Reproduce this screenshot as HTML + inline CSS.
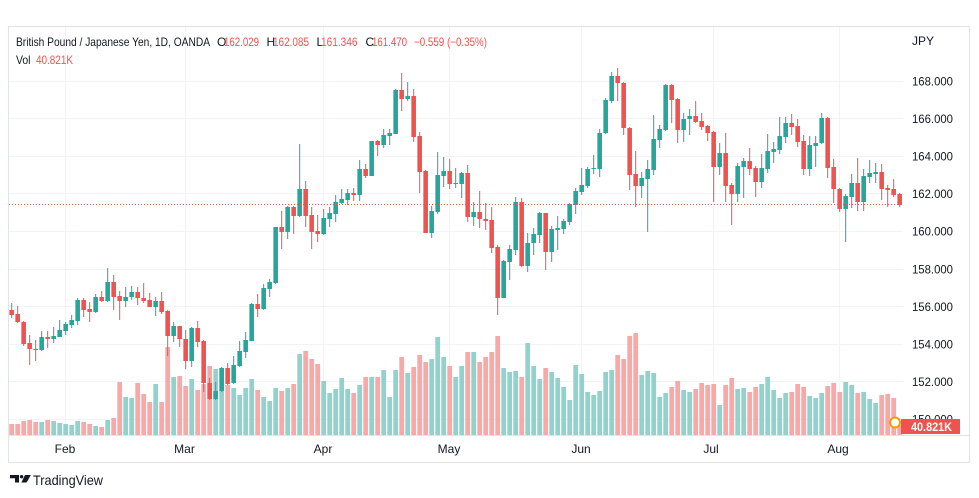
<!DOCTYPE html>
<html><head><meta charset="utf-8"><style>
html,body{margin:0;padding:0;background:#fff;width:979px;height:498px;overflow:hidden}
svg{display:block}
text{font-family:"Liberation Sans",sans-serif}
.G rect{fill:#26a69a}.G .v{fill:#92d2cc}
.R rect{fill:#ef5350}.R .v{fill:#f7a9a8}
.gl{stroke:#f0f3fa;stroke-width:1}
.pl{font-size:12px;fill:#131722}
.tl{font-size:12px;fill:#131722;text-anchor:middle}
</style></head><body>
<svg width="979" height="498" viewBox="0 0 979 498" xmlns="http://www.w3.org/2000/svg">
<rect x="0" y="0" width="979" height="498" fill="#fff"/>
<!-- grid -->
<g class="gl">
<line x1="9" y1="81.5" x2="903" y2="81.5"/><line x1="9" y1="118.5" x2="903" y2="118.5"/><line x1="9" y1="156.5" x2="903" y2="156.5"/><line x1="9" y1="193.5" x2="903" y2="193.5"/><line x1="9" y1="231.5" x2="903" y2="231.5"/><line x1="9" y1="269.5" x2="903" y2="269.5"/><line x1="9" y1="306.5" x2="903" y2="306.5"/><line x1="9" y1="344.5" x2="903" y2="344.5"/><line x1="9" y1="381.5" x2="903" y2="381.5"/><line x1="9" y1="419.5" x2="903" y2="419.5"/>
<line x1="65.5" y1="27" x2="65.5" y2="435"/><line x1="185.5" y1="27" x2="185.5" y2="435"/><line x1="323.5" y1="27" x2="323.5" y2="435"/><line x1="449.5" y1="27" x2="449.5" y2="435"/><line x1="581.5" y1="27" x2="581.5" y2="435"/><line x1="713.5" y1="27" x2="713.5" y2="435"/><line x1="839.5" y1="27" x2="839.5" y2="435"/>
</g>
<!-- candles -->
<g>
<g class="R" transform="translate(0,0)"><rect class="v" x="9.3" y="424" width="4.8" height="11"/><rect x="11.17" y="303" width="1" height="15"/><rect x="9.37" y="310" width="4.6" height="5"/></g>
<g class="R" transform="translate(6,0)"><rect class="v" x="9.3" y="424" width="4.8" height="11"/><rect x="11.17" y="306" width="1" height="17"/><rect x="9.37" y="314" width="4.6" height="8"/></g>
<g class="R" transform="translate(12,0)"><rect class="v" x="9.3" y="421" width="4.8" height="14"/><rect x="11.17" y="321" width="1" height="25"/><rect x="9.37" y="322" width="4.6" height="22"/></g>
<g class="R" transform="translate(18,0)"><rect class="v" x="9.3" y="420" width="4.8" height="15"/><rect x="11.17" y="335" width="1" height="30"/><rect x="9.37" y="343" width="4.6" height="6"/></g>
<g class="R" transform="translate(24,0)"><rect class="v" x="9.3" y="422" width="4.8" height="13"/><rect x="11.17" y="340" width="1" height="21"/><rect x="9.37" y="349" width="4.6" height="1"/></g>
<g class="G" transform="translate(30,0)"><rect class="v" x="9.3" y="422" width="4.8" height="13"/><rect x="11.17" y="331" width="1" height="20"/><rect x="9.37" y="337" width="4.6" height="13"/></g>
<g class="R" transform="translate(36,0)"><rect class="v" x="9.3" y="420" width="4.8" height="15"/><rect x="11.17" y="331" width="1" height="17"/><rect x="9.37" y="337" width="4.6" height="2"/></g>
<g class="G" transform="translate(42,0)"><rect class="v" x="9.3" y="421" width="4.8" height="14"/><rect x="11.17" y="327" width="1" height="16"/><rect x="9.37" y="336" width="4.6" height="3"/></g>
<g class="G" transform="translate(48,0)"><rect class="v" x="9.3" y="423" width="4.8" height="12"/><rect x="11.17" y="320" width="1" height="17"/><rect x="9.37" y="330" width="4.6" height="7"/></g>
<g class="G" transform="translate(54,0)"><rect class="v" x="9.3" y="424" width="4.8" height="11"/><rect x="11.17" y="322" width="1" height="13"/><rect x="9.37" y="324" width="4.6" height="7"/></g>
<g class="G" transform="translate(60,0)"><rect class="v" x="9.3" y="425" width="4.8" height="10"/><rect x="11.17" y="315" width="1" height="13"/><rect x="9.37" y="320" width="4.6" height="5"/></g>
<g class="G" transform="translate(66,0)"><rect class="v" x="9.3" y="421" width="4.8" height="14"/><rect x="11.17" y="298" width="1" height="27"/><rect x="9.37" y="300" width="4.6" height="21"/></g>
<g class="R" transform="translate(72,0)"><rect class="v" x="9.3" y="422" width="4.8" height="13"/><rect x="11.17" y="298" width="1" height="19"/><rect x="9.37" y="300" width="4.6" height="10"/></g>
<g class="R" transform="translate(78,0)"><rect class="v" x="9.3" y="424" width="4.8" height="11"/><rect x="11.17" y="302" width="1" height="20"/><rect x="9.37" y="309" width="4.6" height="3"/></g>
<g class="G" transform="translate(84,0)"><rect class="v" x="9.3" y="426" width="4.8" height="9"/><rect x="11.17" y="294" width="1" height="19"/><rect x="9.37" y="297" width="4.6" height="15"/></g>
<g class="R" transform="translate(90,0)"><rect class="v" x="9.3" y="427" width="4.8" height="8"/><rect x="11.17" y="291" width="1" height="11"/><rect x="9.37" y="297" width="4.6" height="4"/></g>
<g class="G" transform="translate(96,0)"><rect class="v" x="9.3" y="420" width="4.8" height="15"/><rect x="11.17" y="268" width="1" height="34"/><rect x="9.37" y="282" width="4.6" height="19"/></g>
<g class="R" transform="translate(102,0)"><rect class="v" x="9.3" y="418" width="4.8" height="17"/><rect x="11.17" y="275" width="1" height="35"/><rect x="9.37" y="282" width="4.6" height="15"/></g>
<g class="R" transform="translate(108,0)"><rect class="v" x="9.3" y="382" width="4.8" height="53"/><rect x="11.17" y="291" width="1" height="29"/><rect x="9.37" y="296" width="4.6" height="5"/></g>
<g class="G" transform="translate(114,0)"><rect class="v" x="9.3" y="397" width="4.8" height="38"/><rect x="11.17" y="287" width="1" height="20"/><rect x="9.37" y="297" width="4.6" height="4"/></g>
<g class="G" transform="translate(120,0)"><rect class="v" x="9.3" y="398" width="4.8" height="37"/><rect x="11.17" y="286" width="1" height="14"/><rect x="9.37" y="292" width="4.6" height="5"/></g>
<g class="R" transform="translate(126,0)"><rect class="v" x="9.3" y="383" width="4.8" height="52"/><rect x="11.17" y="287" width="1" height="18"/><rect x="9.37" y="292" width="4.6" height="6"/></g>
<g class="R" transform="translate(132,0)"><rect class="v" x="9.3" y="394" width="4.8" height="41"/><rect x="11.17" y="283" width="1" height="20"/><rect x="9.37" y="298" width="4.6" height="3"/></g>
<g class="R" transform="translate(138,0)"><rect class="v" x="9.3" y="402" width="4.8" height="33"/><rect x="11.17" y="293" width="1" height="14"/><rect x="9.37" y="300" width="4.6" height="7"/></g>
<g class="G" transform="translate(144,0)"><rect class="v" x="9.3" y="384" width="4.8" height="51"/><rect x="11.17" y="297" width="1" height="19"/><rect x="9.37" y="301" width="4.6" height="6"/></g>
<g class="R" transform="translate(150,0)"><rect class="v" x="9.3" y="402" width="4.8" height="33"/><rect x="11.17" y="292" width="1" height="22"/><rect x="9.37" y="301" width="4.6" height="11"/></g>
<g class="R" transform="translate(156,0)"><rect class="v" x="9.3" y="347" width="4.8" height="88"/><rect x="11.17" y="310" width="1" height="46"/><rect x="9.37" y="311" width="4.6" height="25"/></g>
<g class="G" transform="translate(162,0)"><rect class="v" x="9.3" y="377" width="4.8" height="58"/><rect x="11.17" y="322" width="1" height="20"/><rect x="9.37" y="326" width="4.6" height="10"/></g>
<g class="R" transform="translate(168,0)"><rect class="v" x="9.3" y="376" width="4.8" height="59"/><rect x="11.17" y="326" width="1" height="21"/><rect x="9.37" y="326" width="4.6" height="13"/></g>
<g class="R" transform="translate(174,0)"><rect class="v" x="9.3" y="386" width="4.8" height="49"/><rect x="11.17" y="330" width="1" height="39"/><rect x="9.37" y="339" width="4.6" height="22"/></g>
<g class="G" transform="translate(180,0)"><rect class="v" x="9.3" y="379" width="4.8" height="56"/><rect x="11.17" y="327" width="1" height="40"/><rect x="9.37" y="328" width="4.6" height="33"/></g>
<g class="R" transform="translate(186,0)"><rect class="v" x="9.3" y="390" width="4.8" height="45"/><rect x="11.17" y="321" width="1" height="26"/><rect x="9.37" y="328" width="4.6" height="14"/></g>
<g class="R" transform="translate(192,0)"><rect class="v" x="9.3" y="384" width="4.8" height="51"/><rect x="11.17" y="340" width="1" height="52"/><rect x="9.37" y="341" width="4.6" height="42"/></g>
<g class="R" transform="translate(198,0)"><rect class="v" x="9.3" y="366" width="4.8" height="69"/><rect x="11.17" y="378" width="1" height="22"/><rect x="9.37" y="383" width="4.6" height="16"/></g>
<g class="G" transform="translate(204,0)"><rect class="v" x="9.3" y="369" width="4.8" height="66"/><rect x="11.17" y="382" width="1" height="18"/><rect x="9.37" y="391" width="4.6" height="8"/></g>
<g class="G" transform="translate(210,0)"><rect class="v" x="9.3" y="368" width="4.8" height="67"/><rect x="11.17" y="367" width="1" height="25"/><rect x="9.37" y="368" width="4.6" height="23"/></g>
<g class="R" transform="translate(216,0)"><rect class="v" x="9.3" y="385" width="4.8" height="50"/><rect x="11.17" y="363" width="1" height="22"/><rect x="9.37" y="368" width="4.6" height="16"/></g>
<g class="G" transform="translate(222,0)"><rect class="v" x="9.3" y="388" width="4.8" height="47"/><rect x="11.17" y="356" width="1" height="28"/><rect x="9.37" y="365" width="4.6" height="18"/></g>
<g class="G" transform="translate(228,0)"><rect class="v" x="9.3" y="395" width="4.8" height="40"/><rect x="11.17" y="341" width="1" height="26"/><rect x="9.37" y="351" width="4.6" height="15"/></g>
<g class="G" transform="translate(234,0)"><rect class="v" x="9.3" y="388" width="4.8" height="47"/><rect x="11.17" y="332" width="1" height="26"/><rect x="9.37" y="340" width="4.6" height="12"/></g>
<g class="G" transform="translate(240,0)"><rect class="v" x="9.3" y="379" width="4.8" height="56"/><rect x="11.17" y="303" width="1" height="38"/><rect x="9.37" y="304" width="4.6" height="37"/></g>
<g class="R" transform="translate(246,0)"><rect class="v" x="9.3" y="390" width="4.8" height="45"/><rect x="11.17" y="294" width="1" height="23"/><rect x="9.37" y="304" width="4.6" height="5"/></g>
<g class="G" transform="translate(252,0)"><rect class="v" x="9.3" y="397" width="4.8" height="38"/><rect x="11.17" y="284" width="1" height="26"/><rect x="9.37" y="288" width="4.6" height="21"/></g>
<g class="G" transform="translate(258,0)"><rect class="v" x="9.3" y="401" width="4.8" height="34"/><rect x="11.17" y="279" width="1" height="18"/><rect x="9.37" y="282" width="4.6" height="7"/></g>
<g class="G" transform="translate(264,0)"><rect class="v" x="9.3" y="388" width="4.8" height="47"/><rect x="11.17" y="227" width="1" height="57"/><rect x="9.37" y="227" width="4.6" height="56"/></g>
<g class="R" transform="translate(270,0)"><rect class="v" x="9.3" y="391" width="4.8" height="44"/><rect x="11.17" y="211" width="1" height="38"/><rect x="9.37" y="227" width="4.6" height="5"/></g>
<g class="G" transform="translate(276,0)"><rect class="v" x="9.3" y="388" width="4.8" height="47"/><rect x="11.17" y="206" width="1" height="33"/><rect x="9.37" y="207" width="4.6" height="25"/></g>
<g class="R" transform="translate(282,0)"><rect class="v" x="9.3" y="384" width="4.8" height="51"/><rect x="11.17" y="206" width="1" height="28"/><rect x="9.37" y="207" width="4.6" height="9"/></g>
<g class="G" transform="translate(288,0)"><rect class="v" x="9.3" y="354" width="4.8" height="81"/><rect x="11.17" y="144" width="1" height="73"/><rect x="9.37" y="189" width="4.6" height="27"/></g>
<g class="R" transform="translate(294,0)"><rect class="v" x="9.3" y="351" width="4.8" height="84"/><rect x="11.17" y="181" width="1" height="46"/><rect x="9.37" y="189" width="4.6" height="27"/></g>
<g class="R" transform="translate(300,0)"><rect class="v" x="9.3" y="359" width="4.8" height="76"/><rect x="11.17" y="207" width="1" height="42"/><rect x="9.37" y="215" width="4.6" height="17"/></g>
<g class="R" transform="translate(306,0)"><rect class="v" x="9.3" y="364" width="4.8" height="71"/><rect x="11.17" y="215" width="1" height="27"/><rect x="9.37" y="231" width="4.6" height="3"/></g>
<g class="G" transform="translate(312,0)"><rect class="v" x="9.3" y="381" width="4.8" height="54"/><rect x="11.17" y="209" width="1" height="26"/><rect x="9.37" y="218" width="4.6" height="16"/></g>
<g class="G" transform="translate(318,0)"><rect class="v" x="9.3" y="393" width="4.8" height="42"/><rect x="11.17" y="207" width="1" height="20"/><rect x="9.37" y="213" width="4.6" height="6"/></g>
<g class="G" transform="translate(324,0)"><rect class="v" x="9.3" y="389" width="4.8" height="46"/><rect x="11.17" y="195" width="1" height="27"/><rect x="9.37" y="202" width="4.6" height="12"/></g>
<g class="G" transform="translate(330,0)"><rect class="v" x="9.3" y="378" width="4.8" height="57"/><rect x="11.17" y="189" width="1" height="15"/><rect x="9.37" y="199" width="4.6" height="4"/></g>
<g class="G" transform="translate(336,0)"><rect class="v" x="9.3" y="389" width="4.8" height="46"/><rect x="11.17" y="189" width="1" height="16"/><rect x="9.37" y="193" width="4.6" height="7"/></g>
<g class="R" transform="translate(342,0)"><rect class="v" x="9.3" y="393" width="4.8" height="42"/><rect x="11.17" y="188" width="1" height="13"/><rect x="9.37" y="193" width="4.6" height="2"/></g>
<g class="G" transform="translate(348,0)"><rect class="v" x="9.3" y="385" width="4.8" height="50"/><rect x="11.17" y="160" width="1" height="41"/><rect x="9.37" y="169" width="4.6" height="26"/></g>
<g class="R" transform="translate(354,0)"><rect class="v" x="9.3" y="377" width="4.8" height="58"/><rect x="11.17" y="164" width="1" height="14"/><rect x="9.37" y="169" width="4.6" height="7"/></g>
<g class="G" transform="translate(360,0)"><rect class="v" x="9.3" y="377" width="4.8" height="58"/><rect x="11.17" y="141" width="1" height="35"/><rect x="9.37" y="141" width="4.6" height="35"/></g>
<g class="R" transform="translate(366,0)"><rect class="v" x="9.3" y="377" width="4.8" height="58"/><rect x="11.17" y="140" width="1" height="16"/><rect x="9.37" y="141" width="4.6" height="4"/></g>
<g class="G" transform="translate(372,0)"><rect class="v" x="9.3" y="370" width="4.8" height="65"/><rect x="11.17" y="129" width="1" height="19"/><rect x="9.37" y="135" width="4.6" height="10"/></g>
<g class="G" transform="translate(378,0)"><rect class="v" x="9.3" y="397" width="4.8" height="38"/><rect x="11.17" y="129" width="1" height="16"/><rect x="9.37" y="133" width="4.6" height="3"/></g>
<g class="G" transform="translate(384,0)"><rect class="v" x="9.3" y="370" width="4.8" height="65"/><rect x="11.17" y="89" width="1" height="45"/><rect x="9.37" y="90" width="4.6" height="44"/></g>
<g class="R" transform="translate(390,0)"><rect class="v" x="9.3" y="357" width="4.8" height="78"/><rect x="11.17" y="73" width="1" height="38"/><rect x="9.37" y="90" width="4.6" height="9"/></g>
<g class="G" transform="translate(396,0)"><rect class="v" x="9.3" y="373" width="4.8" height="62"/><rect x="11.17" y="82" width="1" height="19"/><rect x="9.37" y="96" width="4.6" height="3"/></g>
<g class="R" transform="translate(402,0)"><rect class="v" x="9.3" y="367" width="4.8" height="68"/><rect x="11.17" y="89" width="1" height="53"/><rect x="9.37" y="96" width="4.6" height="41"/></g>
<g class="R" transform="translate(408,0)"><rect class="v" x="9.3" y="355" width="4.8" height="80"/><rect x="11.17" y="132" width="1" height="61"/><rect x="9.37" y="136" width="4.6" height="36"/></g>
<g class="R" transform="translate(414,0)"><rect class="v" x="9.3" y="362" width="4.8" height="73"/><rect x="11.17" y="170" width="1" height="63"/><rect x="9.37" y="171" width="4.6" height="62"/></g>
<g class="G" transform="translate(420,0)"><rect class="v" x="9.3" y="359" width="4.8" height="76"/><rect x="11.17" y="206" width="1" height="32"/><rect x="9.37" y="211" width="4.6" height="22"/></g>
<g class="G" transform="translate(426,0)"><rect class="v" x="9.3" y="337" width="4.8" height="98"/><rect x="11.17" y="152" width="1" height="62"/><rect x="9.37" y="175" width="4.6" height="37"/></g>
<g class="G" transform="translate(432,0)"><rect class="v" x="9.3" y="357" width="4.8" height="78"/><rect x="11.17" y="157" width="1" height="30"/><rect x="9.37" y="171" width="4.6" height="5"/></g>
<g class="R" transform="translate(438,0)"><rect class="v" x="9.3" y="366" width="4.8" height="69"/><rect x="11.17" y="159" width="1" height="30"/><rect x="9.37" y="171" width="4.6" height="13"/></g>
<g class="G" transform="translate(444,0)"><rect class="v" x="9.3" y="377" width="4.8" height="58"/><rect x="11.17" y="168" width="1" height="20"/><rect x="9.37" y="183" width="4.6" height="1"/></g>
<g class="G" transform="translate(450,0)"><rect class="v" x="9.3" y="366" width="4.8" height="69"/><rect x="11.17" y="172" width="1" height="26"/><rect x="9.37" y="173" width="4.6" height="11"/></g>
<g class="R" transform="translate(456,0)"><rect class="v" x="9.3" y="352" width="4.8" height="83"/><rect x="11.17" y="165" width="1" height="57"/><rect x="9.37" y="173" width="4.6" height="44"/></g>
<g class="G" transform="translate(462,0)"><rect class="v" x="9.3" y="352" width="4.8" height="83"/><rect x="11.17" y="202" width="1" height="24"/><rect x="9.37" y="212" width="4.6" height="5"/></g>
<g class="R" transform="translate(468,0)"><rect class="v" x="9.3" y="362" width="4.8" height="73"/><rect x="11.17" y="191" width="1" height="37"/><rect x="9.37" y="212" width="4.6" height="7"/></g>
<g class="R" transform="translate(474,0)"><rect class="v" x="9.3" y="357" width="4.8" height="78"/><rect x="11.17" y="203" width="1" height="27"/><rect x="9.37" y="219" width="4.6" height="2"/></g>
<g class="R" transform="translate(480,0)"><rect class="v" x="9.3" y="352" width="4.8" height="83"/><rect x="11.17" y="207" width="1" height="46"/><rect x="9.37" y="220" width="4.6" height="28"/></g>
<g class="R" transform="translate(486,0)"><rect class="v" x="9.3" y="336" width="4.8" height="99"/><rect x="11.17" y="245" width="1" height="70"/><rect x="9.37" y="247" width="4.6" height="51"/></g>
<g class="G" transform="translate(492,0)"><rect class="v" x="9.3" y="368" width="4.8" height="67"/><rect x="11.17" y="260" width="1" height="38"/><rect x="9.37" y="261" width="4.6" height="37"/></g>
<g class="G" transform="translate(498,0)"><rect class="v" x="9.3" y="372" width="4.8" height="63"/><rect x="11.17" y="245" width="1" height="35"/><rect x="9.37" y="249" width="4.6" height="13"/></g>
<g class="G" transform="translate(504,0)"><rect class="v" x="9.3" y="371" width="4.8" height="64"/><rect x="11.17" y="197" width="1" height="58"/><rect x="9.37" y="202" width="4.6" height="48"/></g>
<g class="R" transform="translate(510,0)"><rect class="v" x="9.3" y="377" width="4.8" height="58"/><rect x="11.17" y="198" width="1" height="69"/><rect x="9.37" y="202" width="4.6" height="64"/></g>
<g class="G" transform="translate(516,0)"><rect class="v" x="9.3" y="343" width="4.8" height="92"/><rect x="11.17" y="233" width="1" height="39"/><rect x="9.37" y="243" width="4.6" height="23"/></g>
<g class="G" transform="translate(522,0)"><rect class="v" x="9.3" y="366" width="4.8" height="69"/><rect x="11.17" y="228" width="1" height="27"/><rect x="9.37" y="234" width="4.6" height="9"/></g>
<g class="G" transform="translate(528,0)"><rect class="v" x="9.3" y="379" width="4.8" height="56"/><rect x="11.17" y="212" width="1" height="31"/><rect x="9.37" y="213" width="4.6" height="22"/></g>
<g class="R" transform="translate(534,0)"><rect class="v" x="9.3" y="368" width="4.8" height="67"/><rect x="11.17" y="213" width="1" height="57"/><rect x="9.37" y="213" width="4.6" height="39"/></g>
<g class="G" transform="translate(540,0)"><rect class="v" x="9.3" y="372" width="4.8" height="63"/><rect x="11.17" y="226" width="1" height="36"/><rect x="9.37" y="229" width="4.6" height="23"/></g>
<g class="G" transform="translate(546,0)"><rect class="v" x="9.3" y="378" width="4.8" height="57"/><rect x="11.17" y="216" width="1" height="34"/><rect x="9.37" y="228" width="4.6" height="2"/></g>
<g class="G" transform="translate(552,0)"><rect class="v" x="9.3" y="387" width="4.8" height="48"/><rect x="11.17" y="219" width="1" height="15"/><rect x="9.37" y="221" width="4.6" height="8"/></g>
<g class="G" transform="translate(558,0)"><rect class="v" x="9.3" y="400" width="4.8" height="35"/><rect x="11.17" y="203" width="1" height="22"/><rect x="9.37" y="204" width="4.6" height="18"/></g>
<g class="G" transform="translate(564,0)"><rect class="v" x="9.3" y="365" width="4.8" height="70"/><rect x="11.17" y="188" width="1" height="26"/><rect x="9.37" y="191" width="4.6" height="14"/></g>
<g class="G" transform="translate(570,0)"><rect class="v" x="9.3" y="374" width="4.8" height="61"/><rect x="11.17" y="168" width="1" height="27"/><rect x="9.37" y="185" width="4.6" height="7"/></g>
<g class="G" transform="translate(576,0)"><rect class="v" x="9.3" y="392" width="4.8" height="43"/><rect x="11.17" y="167" width="1" height="21"/><rect x="9.37" y="169" width="4.6" height="17"/></g>
<g class="G" transform="translate(582,0)"><rect class="v" x="9.3" y="395" width="4.8" height="40"/><rect x="11.17" y="155" width="1" height="19"/><rect x="9.37" y="168" width="4.6" height="1"/></g>
<g class="G" transform="translate(588,0)"><rect class="v" x="9.3" y="391" width="4.8" height="44"/><rect x="11.17" y="129" width="1" height="48"/><rect x="9.37" y="133" width="4.6" height="36"/></g>
<g class="G" transform="translate(594,0)"><rect class="v" x="9.3" y="372" width="4.8" height="63"/><rect x="11.17" y="98" width="1" height="36"/><rect x="9.37" y="100" width="4.6" height="33"/></g>
<g class="G" transform="translate(600,0)"><rect class="v" x="9.3" y="370" width="4.8" height="65"/><rect x="11.17" y="72" width="1" height="31"/><rect x="9.37" y="76" width="4.6" height="25"/></g>
<g class="R" transform="translate(606,0)"><rect class="v" x="9.3" y="355" width="4.8" height="80"/><rect x="11.17" y="68" width="1" height="33"/><rect x="9.37" y="76" width="4.6" height="7"/></g>
<g class="R" transform="translate(612,0)"><rect class="v" x="9.3" y="359" width="4.8" height="76"/><rect x="11.17" y="82" width="1" height="53"/><rect x="9.37" y="83" width="4.6" height="45"/></g>
<g class="R" transform="translate(618,0)"><rect class="v" x="9.3" y="336" width="4.8" height="99"/><rect x="11.17" y="127" width="1" height="63"/><rect x="9.37" y="128" width="4.6" height="47"/></g>
<g class="R" transform="translate(624,0)"><rect class="v" x="9.3" y="333" width="4.8" height="102"/><rect x="11.17" y="151" width="1" height="56"/><rect x="9.37" y="174" width="4.6" height="12"/></g>
<g class="G" transform="translate(630,0)"><rect class="v" x="9.3" y="375" width="4.8" height="60"/><rect x="11.17" y="172" width="1" height="26"/><rect x="9.37" y="178" width="4.6" height="8"/></g>
<g class="G" transform="translate(636,0)"><rect class="v" x="9.3" y="371" width="4.8" height="64"/><rect x="11.17" y="160" width="1" height="72"/><rect x="9.37" y="169" width="4.6" height="10"/></g>
<g class="G" transform="translate(642,0)"><rect class="v" x="9.3" y="373" width="4.8" height="62"/><rect x="11.17" y="115" width="1" height="60"/><rect x="9.37" y="139" width="4.6" height="31"/></g>
<g class="G" transform="translate(648,0)"><rect class="v" x="9.3" y="397" width="4.8" height="38"/><rect x="11.17" y="125" width="1" height="23"/><rect x="9.37" y="129" width="4.6" height="11"/></g>
<g class="G" transform="translate(654,0)"><rect class="v" x="9.3" y="393" width="4.8" height="42"/><rect x="11.17" y="84" width="1" height="47"/><rect x="9.37" y="85" width="4.6" height="45"/></g>
<g class="R" transform="translate(660,0)"><rect class="v" x="9.3" y="387" width="4.8" height="48"/><rect x="11.17" y="84" width="1" height="39"/><rect x="9.37" y="85" width="4.6" height="15"/></g>
<g class="R" transform="translate(666,0)"><rect class="v" x="9.3" y="381" width="4.8" height="54"/><rect x="11.17" y="98" width="1" height="45"/><rect x="9.37" y="99" width="4.6" height="31"/></g>
<g class="G" transform="translate(672,0)"><rect class="v" x="9.3" y="390" width="4.8" height="45"/><rect x="11.17" y="113" width="1" height="29"/><rect x="9.37" y="119" width="4.6" height="11"/></g>
<g class="G" transform="translate(678,0)"><rect class="v" x="9.3" y="392" width="4.8" height="43"/><rect x="11.17" y="109" width="1" height="26"/><rect x="9.37" y="116" width="4.6" height="3"/></g>
<g class="R" transform="translate(684,0)"><rect class="v" x="9.3" y="389" width="4.8" height="46"/><rect x="11.17" y="101" width="1" height="22"/><rect x="9.37" y="116" width="4.6" height="6"/></g>
<g class="R" transform="translate(690,0)"><rect class="v" x="9.3" y="383" width="4.8" height="52"/><rect x="11.17" y="113" width="1" height="17"/><rect x="9.37" y="121" width="4.6" height="6"/></g>
<g class="R" transform="translate(696,0)"><rect class="v" x="9.3" y="385" width="4.8" height="50"/><rect x="11.17" y="125" width="1" height="16"/><rect x="9.37" y="126" width="4.6" height="7"/></g>
<g class="R" transform="translate(702,0)"><rect class="v" x="9.3" y="384" width="4.8" height="51"/><rect x="11.17" y="131" width="1" height="71"/><rect x="9.37" y="132" width="4.6" height="35"/></g>
<g class="G" transform="translate(708,0)"><rect class="v" x="9.3" y="405" width="4.8" height="30"/><rect x="11.17" y="143" width="1" height="32"/><rect x="9.37" y="153" width="4.6" height="14"/></g>
<g class="R" transform="translate(714,0)"><rect class="v" x="9.3" y="385" width="4.8" height="50"/><rect x="11.17" y="133" width="1" height="69"/><rect x="9.37" y="153" width="4.6" height="33"/></g>
<g class="R" transform="translate(720,0)"><rect class="v" x="9.3" y="378" width="4.8" height="57"/><rect x="11.17" y="183" width="1" height="42"/><rect x="9.37" y="185" width="4.6" height="9"/></g>
<g class="G" transform="translate(726,0)"><rect class="v" x="9.3" y="389" width="4.8" height="46"/><rect x="11.17" y="163" width="1" height="39"/><rect x="9.37" y="166" width="4.6" height="28"/></g>
<g class="G" transform="translate(732,0)"><rect class="v" x="9.3" y="388" width="4.8" height="47"/><rect x="11.17" y="158" width="1" height="40"/><rect x="9.37" y="161" width="4.6" height="6"/></g>
<g class="R" transform="translate(738,0)"><rect class="v" x="9.3" y="392" width="4.8" height="43"/><rect x="11.17" y="148" width="1" height="27"/><rect x="9.37" y="161" width="4.6" height="8"/></g>
<g class="R" transform="translate(744,0)"><rect class="v" x="9.3" y="387" width="4.8" height="48"/><rect x="11.17" y="166" width="1" height="31"/><rect x="9.37" y="168" width="4.6" height="14"/></g>
<g class="G" transform="translate(750,0)"><rect class="v" x="9.3" y="384" width="4.8" height="51"/><rect x="11.17" y="154" width="1" height="34"/><rect x="9.37" y="168" width="4.6" height="14"/></g>
<g class="G" transform="translate(756,0)"><rect class="v" x="9.3" y="377" width="4.8" height="58"/><rect x="11.17" y="134" width="1" height="39"/><rect x="9.37" y="151" width="4.6" height="18"/></g>
<g class="G" transform="translate(762,0)"><rect class="v" x="9.3" y="390" width="4.8" height="45"/><rect x="11.17" y="142" width="1" height="21"/><rect x="9.37" y="149" width="4.6" height="3"/></g>
<g class="G" transform="translate(768,0)"><rect class="v" x="9.3" y="398" width="4.8" height="37"/><rect x="11.17" y="117" width="1" height="37"/><rect x="9.37" y="136" width="4.6" height="14"/></g>
<g class="G" transform="translate(774,0)"><rect class="v" x="9.3" y="393" width="4.8" height="42"/><rect x="11.17" y="117" width="1" height="26"/><rect x="9.37" y="123" width="4.6" height="14"/></g>
<g class="R" transform="translate(780,0)"><rect class="v" x="9.3" y="392" width="4.8" height="43"/><rect x="11.17" y="114" width="1" height="21"/><rect x="9.37" y="123" width="4.6" height="4"/></g>
<g class="R" transform="translate(786,0)"><rect class="v" x="9.3" y="384" width="4.8" height="51"/><rect x="11.17" y="119" width="1" height="28"/><rect x="9.37" y="126" width="4.6" height="16"/></g>
<g class="R" transform="translate(792,0)"><rect class="v" x="9.3" y="387" width="4.8" height="48"/><rect x="11.17" y="135" width="1" height="40"/><rect x="9.37" y="141" width="4.6" height="28"/></g>
<g class="G" transform="translate(798,0)"><rect class="v" x="9.3" y="396" width="4.8" height="39"/><rect x="11.17" y="136" width="1" height="40"/><rect x="9.37" y="145" width="4.6" height="24"/></g>
<g class="G" transform="translate(804,0)"><rect class="v" x="9.3" y="398" width="4.8" height="37"/><rect x="11.17" y="136" width="1" height="31"/><rect x="9.37" y="143" width="4.6" height="3"/></g>
<g class="G" transform="translate(810,0)"><rect class="v" x="9.3" y="393" width="4.8" height="42"/><rect x="11.17" y="113" width="1" height="31"/><rect x="9.37" y="118" width="4.6" height="25"/></g>
<g class="R" transform="translate(816,0)"><rect class="v" x="9.3" y="386" width="4.8" height="49"/><rect x="11.17" y="117" width="1" height="61"/><rect x="9.37" y="118" width="4.6" height="50"/></g>
<g class="R" transform="translate(822,0)"><rect class="v" x="9.3" y="383" width="4.8" height="52"/><rect x="11.17" y="159" width="1" height="44"/><rect x="9.37" y="167" width="4.6" height="22"/></g>
<g class="R" transform="translate(828,0)"><rect class="v" x="9.3" y="392" width="4.8" height="43"/><rect x="11.17" y="188" width="1" height="24"/><rect x="9.37" y="189" width="4.6" height="20"/></g>
<g class="G" transform="translate(834,0)"><rect class="v" x="9.3" y="382" width="4.8" height="53"/><rect x="11.17" y="194" width="1" height="48"/><rect x="9.37" y="196" width="4.6" height="13"/></g>
<g class="G" transform="translate(840,0)"><rect class="v" x="9.3" y="385" width="4.8" height="50"/><rect x="11.17" y="174" width="1" height="34"/><rect x="9.37" y="183" width="4.6" height="14"/></g>
<g class="R" transform="translate(846,0)"><rect class="v" x="9.3" y="393" width="4.8" height="42"/><rect x="11.17" y="158" width="1" height="53"/><rect x="9.37" y="183" width="4.6" height="19"/></g>
<g class="G" transform="translate(852,0)"><rect class="v" x="9.3" y="392" width="4.8" height="43"/><rect x="11.17" y="169" width="1" height="42"/><rect x="9.37" y="176" width="4.6" height="26"/></g>
<g class="G" transform="translate(858,0)"><rect class="v" x="9.3" y="399" width="4.8" height="36"/><rect x="11.17" y="160" width="1" height="23"/><rect x="9.37" y="173" width="4.6" height="4"/></g>
<g class="G" transform="translate(864,0)"><rect class="v" x="9.3" y="403" width="4.8" height="32"/><rect x="11.17" y="163" width="1" height="20"/><rect x="9.37" y="172" width="4.6" height="2"/></g>
<g class="R" transform="translate(870,0)"><rect class="v" x="9.3" y="395" width="4.8" height="40"/><rect x="11.17" y="164" width="1" height="36"/><rect x="9.37" y="172" width="4.6" height="17"/></g>
<g class="R" transform="translate(876,0)"><rect class="v" x="9.3" y="394" width="4.8" height="41"/><rect x="11.17" y="185" width="1" height="22"/><rect x="9.37" y="188" width="4.6" height="2"/></g>
<g class="R" transform="translate(882,0)"><rect class="v" x="9.3" y="398" width="4.8" height="37"/><rect x="11.17" y="179" width="1" height="18"/><rect x="9.37" y="189" width="4.6" height="6"/></g>
<g class="R" transform="translate(888,0)"><rect class="v" x="9.3" y="425" width="4.8" height="10"/><rect x="11.17" y="193" width="1" height="14"/><rect x="9.37" y="194" width="4.6" height="11"/></g>
</g>
<!-- last price dotted line -->
<line x1="9" y1="204.5" x2="903" y2="204.5" stroke="#ef5350" stroke-width="1" stroke-dasharray="1,2"/>
<!-- frame -->
<line x1="9" y1="435.5" x2="969" y2="435.5" stroke="#e0e3eb" stroke-width="1"/>
<rect x="8.5" y="26.5" width="961" height="436" fill="none" stroke="#e0e3eb" stroke-width="1"/>
<!-- price axis -->
<text class="pl" x="912" y="45">JPY</text>
<text class="pl" x="912" y="85.5" textLength="41" lengthAdjust="spacingAndGlyphs">168.000</text>
<text class="pl" x="912" y="123" textLength="41" lengthAdjust="spacingAndGlyphs">166.000</text>
<text class="pl" x="912" y="160.5" textLength="41" lengthAdjust="spacingAndGlyphs">164.000</text>
<text class="pl" x="912" y="198" textLength="41" lengthAdjust="spacingAndGlyphs">162.000</text>
<text class="pl" x="912" y="235.5" textLength="41" lengthAdjust="spacingAndGlyphs">160.000</text>
<text class="pl" x="912" y="273.5" textLength="41" lengthAdjust="spacingAndGlyphs">158.000</text>
<text class="pl" x="912" y="311" textLength="41" lengthAdjust="spacingAndGlyphs">156.000</text>
<text class="pl" x="912" y="348.5" textLength="41" lengthAdjust="spacingAndGlyphs">154.000</text>
<text class="pl" x="912" y="386" textLength="41" lengthAdjust="spacingAndGlyphs">152.000</text>
<text class="pl" x="912" y="423.5" textLength="41" lengthAdjust="spacingAndGlyphs">150.000</text>
<!-- marker and volume badge -->
<circle cx="895" cy="422.5" r="5" fill="#fff" stroke="#ff9800" stroke-width="2"/>
<rect x="901" y="419" width="59" height="15" fill="#ef5350"/>
<text x="911" y="431" font-size="12" font-weight="bold" fill="#fff" textLength="41" lengthAdjust="spacingAndGlyphs">40.821K</text>
<!-- time axis -->
<text class="tl" x="65" y="453">Feb</text>
<text class="tl" x="184.5" y="453">Mar</text>
<text class="tl" x="323" y="453">Apr</text>
<text class="tl" x="449" y="453">May</text>
<text class="tl" x="581" y="453">Jun</text>
<text class="tl" x="711" y="453">Jul</text>
<text class="tl" x="838" y="453">Aug</text>
<!-- header -->
<g font-size="12">
<text x="16" y="46" fill="#131722" textLength="194" lengthAdjust="spacingAndGlyphs">British Pound / Japanese Yen, 1D, OANDA</text>
<text x="217" y="46" fill="#131722">O</text>
<text x="224" y="46" fill="#ef5350" textLength="35" lengthAdjust="spacingAndGlyphs">162.029</text>
<text x="266.5" y="46" fill="#131722">H</text>
<text x="273" y="46" fill="#ef5350" textLength="36" lengthAdjust="spacingAndGlyphs">162.085</text>
<text x="316.5" y="46" fill="#131722">L</text>
<text x="321" y="46" fill="#ef5350" textLength="36.5" lengthAdjust="spacingAndGlyphs">161.346</text>
<text x="365.5" y="46" fill="#131722">C</text>
<text x="372" y="46" fill="#ef5350" textLength="35" lengthAdjust="spacingAndGlyphs">161.470</text>
<text x="414" y="46" fill="#ef5350" textLength="73" lengthAdjust="spacingAndGlyphs">−0.559 (−0.35%)</text>
<text x="16" y="64" fill="#131722" textLength="14.5" lengthAdjust="spacingAndGlyphs">Vol</text>
<text x="36" y="64" fill="#ef5350" textLength="37" lengthAdjust="spacingAndGlyphs">40.821K</text>
</g>
<!-- TradingView logo -->
<g fill="#131722">
<path d="M10 475 H19 V482.5 H15 V478.3 H10 Z"/>
<circle cx="21.6" cy="476.7" r="1.7"/>
<path d="M25 475 H30.8 L26.6 482.5 H21.4 Z"/>
</g>
<text x="33" y="485" font-size="14" fill="#131722" textLength="70" lengthAdjust="spacingAndGlyphs">TradingView</text>
</svg>
</body></html>
